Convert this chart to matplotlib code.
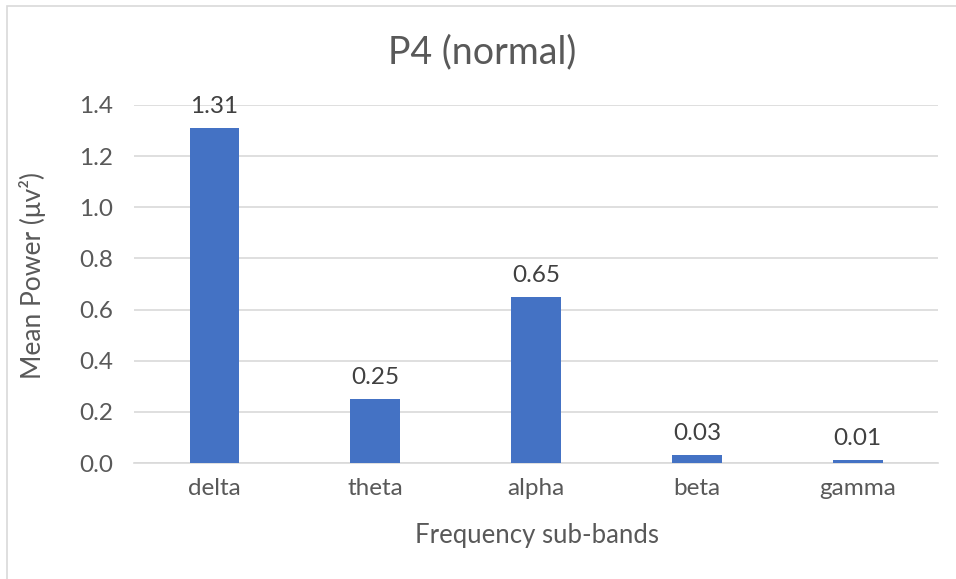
import matplotlib.pyplot as plt
from matplotlib.patches import Rectangle

bands = ["delta", "theta", "alpha", "beta", "gamma"]
power = [1.31, 0.25, 0.65, 0.03, 0.01]
yticks = [0.0, 0.2, 0.4, 0.6, 0.8, 1.0, 1.2, 1.4]

plt.rcParams['font.family'] = ['Lato', 'DejaVu Sans']
text_col = "#595959"
grid_col = "#D9D9D9"

fig = plt.figure(figsize=(9.56, 5.79), dpi=100)
ax = fig.add_axes([0.1402, 0.2003, 0.8410, 0.6184])

# chart frame
fig.patches.append(Rectangle((7 / 956, -0.1), 2, 1.1 - 6 / 579, transform=fig.transFigure,
                             fill=False, edgecolor=grid_col, linewidth=1.2))

x = range(len(bands))
bars = ax.bar(x, power, width=0.31, color="#4472C4", zorder=3)
for xi, v in zip(x, power):
    ax.annotate(f"{v:.2f}", (xi, v), xytext=(0, 8), textcoords="offset points",
                ha="center", va="bottom", fontsize=17.5, color="#404040")

ax.set_xlim(-0.5, len(bands) - 0.5)
ax.set_ylim(0, 1.4)
ax.set_yticks(yticks)
ax.set_yticklabels([f"{t:.1f}" for t in yticks])
ax.set_xticks(list(x))
ax.set_xticklabels(bands)
ax.tick_params(axis="both", length=0, labelsize=17.5, colors=text_col)
ax.tick_params(axis="y", pad=15)
ax.tick_params(axis="x", pad=11)
ax.yaxis.grid(True, color=grid_col, linewidth=1.2, zorder=0)
for s in ["top", "right", "left"]:
    ax.spines[s].set_visible(False)
ax.spines["bottom"].set_color(grid_col)
ax.spines["bottom"].set_linewidth(1.2)

fig.text(482 / 956, 1 - 52 / 579, "P4 (normal)", fontsize=27, color=text_col,
         ha="center", va="center")
fig.text(537 / 956, 1 - 535 / 579, "Frequency sub-bands", fontsize=18.5, color=text_col,
         ha="center", va="center")
fig.text(33 / 956, 1 - 276 / 579, "Mean Power (μv²)", fontsize=19, color=text_col,
         ha="center", va="center", rotation=90)

fig.savefig("out.png", dpi=100)
